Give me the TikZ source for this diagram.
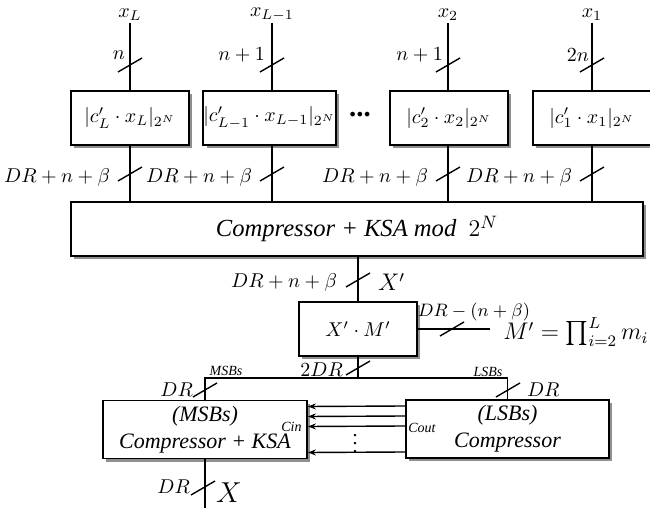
\documentclass[tikz,border=0pt]{standalone}
\usepackage{amsmath,amssymb}
\usepackage[no-math]{fontspec}
\setmainfont{Liberation Serif}[ItalicFont={Liberation Serif Italic},BoldFont={Liberation Serif Bold}]
\usetikzlibrary{shadows,arrows.meta}

\tikzset{
  blk/.style={draw, line width=0.9pt, fill=white, inner sep=0pt, align=center,
    drop shadow={shadow xshift=1.6pt, shadow yshift=-1.6pt, fill=black!80, opacity=0.55}},
  cbox/.style={blk, minimum width=59pt, minimum height=27pt},
  wire/.style={line width=0.7pt},
  tag/.style={font=\scriptsize\itshape, inner sep=1pt},
  buscut/.pic={\draw[line width=0.7pt] (-12,7) -- (12,-7);},
}

\begin{document}
\begin{tikzpicture}[x=0.5pt,y=-0.5pt]
\useasboundingbox (0,0) rectangle (650,508);

% operand inputs
\coordinate[label={[label distance=-2.5pt]above:$x_L$}] (tL) at (130,23);
\coordinate[label={[label distance=-2.5pt]above:$x_{L-1}$}] (tLm) at (272,23);
\coordinate[label={[label distance=-2.5pt]above:$x_2$}] (t2) at (448,23);
\coordinate[label={[label distance=-2.5pt]above:$x_1$}] (t1) at (592,23);

\node[cbox] (bL) at (130,118) {$|c'_L\cdot x_L|_{2^N}$};
\node[cbox, minimum width=61.5pt] (bLm) at (269.5,118) {$|c'_{L-1}\cdot x_{L-1}|_{2^N}$};
\node[cbox] (b2) at (449,118) {$|c'_2\cdot x_2|_{2^N}$};
\node[cbox] (b1) at (592,118) {$|c'_1\cdot x_1|_{2^N}$};
\node (dots) at (360,115) {\Large\textbf{...}};

\draw[wire] (tL) -- (bL);
\draw[wire] (tLm) -- (tLm |- bLm.north);
\draw[wire] (t2) -- (t2 |- b2.north);
\draw[wire] (t1) -- (b1);
\pic at (130,65) {buscut};
\pic at (272,65) {buscut};
\pic at (448,65) {buscut};
\pic at (592,65) {buscut};
\node[left] at (132,55) {$n$};
\node[left] at (272,55) {$n+1$};
\node[left] at (450,55) {$n+1$};
\node[left] at (596,55) {$2n$};

% compressor tree
\node[blk, minimum width=286pt, minimum height=27pt] (comp) at (357,229)
  {\fontsize{12.3}{15}\selectfont\itshape Compressor + KSA mod~~$2^N$};
\draw[wire] (bL) -- (bL |- comp.north);
\draw[wire] (tLm |- bLm.south) -- (tLm |- comp.north);
\draw[wire] (t2 |- b2.south) -- (t2 |- comp.north);
\draw[wire] (b1) -- (b1 |- comp.north);
\pic at (130,174) {buscut};
\pic at (272,174) {buscut};
\pic at (448,174) {buscut};
\pic at (592,174) {buscut};
\node[left] at (117,178) {$DR+n+\beta$};
\node[left] at (259,178) {$DR+n+\beta$};
\node[left] at (435,178) {$DR+n+\beta$};
\node[left] at (579,178) {$DR+n+\beta$};

% multiplication by M'
\node[cbox] (mul) at (358,329) {$X'\cdot M'$};
\draw[wire] (mul |- comp.south) -- (mul);
\pic at (358,280) {buscut};
\node[left] at (344,283) {$DR+n+\beta$};
\node[right] at (371,282) {\large$X'$};

\node[right, inner xsep=6.5pt] (Mp) at (490,332) {\large$M'=\prod_{i=2}^{L} m_i$};
\draw[wire] (mul.east) -- (mul.east -| Mp.west);
\pic at (452,329) {buscut};
\node[font=\small] at (474,312) {$DR-(n+\beta)$};

% final adders
\node[blk, minimum width=102pt, minimum height=29pt, font=\fontsize{11}{13.5}\selectfont\itshape]
  (msb) at (205,429.5) {(MSBs)\\Compressor + KSA};
\node[blk, minimum width=101.5pt, minimum height=29pt, font=\fontsize{11}{13.5}\selectfont\itshape]
  (lsb) at (507.5,429) {(LSBs)\\Compressor};
\coordinate (split) at (358,378);
\draw[wire] (mul) -- (split);
\draw[wire] (msb.north) |- (split) -| (lsb.north);
\pic at (358,368) {buscut};
\pic at (205,390) {buscut};
\pic at (508,390) {buscut};
\node[left] at (350,370) {$2DR$};
\node[left] at (200,390) {$DR$};
\node[right] at (520,390) {$DR$};
\node[tag] at (226,371) {MSBs};
\node[tag] at (488,372) {LSBs};

\draw[wire,-{Stealth[length=4pt,width=3pt]}] ([yshift=11.5pt]lsb.west) -- ([yshift=11.5pt]msb.east);
\draw[wire,-{Stealth[length=4pt,width=3pt]}] ([yshift=6.5pt]lsb.west) -- ([yshift=6.5pt]msb.east);
\draw[wire,-{Stealth[length=4pt,width=3pt]}] ([yshift=1.5pt]lsb.west) -- ([yshift=1.5pt]msb.east);
\draw[wire,-{Stealth[length=4pt,width=3pt]}] ([yshift=-11.5pt]lsb.west) -- ([yshift=-11.5pt]msb.east);
\node at (355,438) {$\vdots$};
\node[tag, anchor=east] at (304,427) {Cin};
\node[tag, anchor=west] at (406,428) {Cout};

\coordinate (out) at (205,510);
\draw[wire] (msb) -- (out);
\pic at (203,488) {buscut};
\node[left] at (197,487) {$DR$};
\node[right] at (209,493) {\Large$X$};
\end{tikzpicture}
\end{document}
